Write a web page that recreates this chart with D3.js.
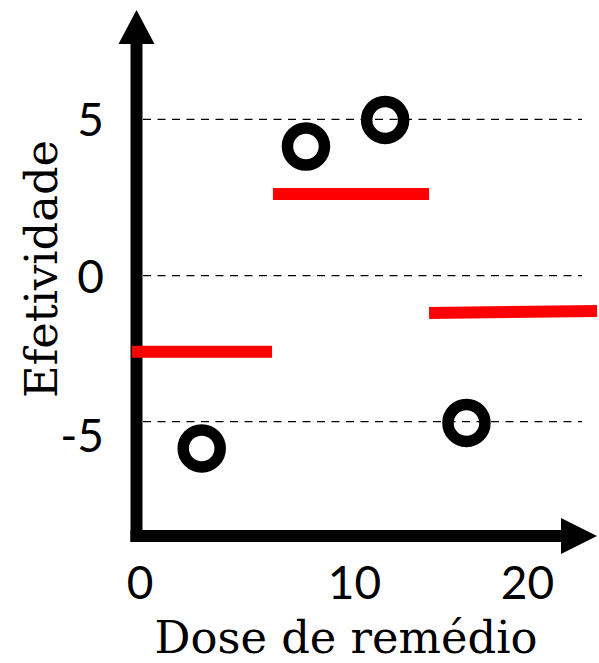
<!DOCTYPE html>
<html>
<head>
<meta charset="utf-8">
<script src="https://cdn.jsdelivr.net/npm/d3@7"></script>
<style>
  html, body { margin: 0; padding: 0; background: #fff; }
  svg { display: block; }
</style>
</head>
<body>
<svg id="chart" width="599" height="663"></svg>
<script>
// ---- data ----
const xTicks = [0, 10, 20];
const yTicks = [5, 0, -5];
const gridValues = [5, 0, -4.58];
const pointDose = [2.9, 7.76, 11.8, 16.5];
const pointEffect = [-5.42, 4.13, 4.98, -4.62];
const segX0 = [-0.36, 6.22, 14.34];
const segX1 = [6.18, 14.34, 24.05];
const segY0 = [-2.39, 2.61, -1.17];
const segY1 = [-2.39, 2.61, -1.11];
const xTitle = "Dose de remédio";
const yTitle = "Efetividade";

const svg = d3.select("#chart");

const x = d3.scaleLinear().domain([0, 10, 20]).range([139.5, 354, 527]);
const y = d3.scaleLinear().domain([-5, 0, 5]).range([435, 275.7, 119.3]);

const axisX = 136.5, axisY = 536;

// gridlines
svg.append("g").selectAll("line").data(gridValues).join("line")
  .attr("x1", 143).attr("x2", 582)
  .attr("y1", d => y(d)).attr("y2", d => y(d))
  .attr("stroke", "#000").attr("stroke-width", 1.3)
  .attr("stroke-dasharray", "8,6.5");

// axes lines
svg.append("line").attr("x1", axisX).attr("x2", axisX).attr("y1", 542).attr("y2", 40)
  .attr("stroke", "#000").attr("stroke-width", 12);
svg.append("line").attr("x1", 130.5).attr("x2", 565).attr("y1", axisY).attr("y2", axisY)
  .attr("stroke", "#000").attr("stroke-width", 12);
// arrowheads
svg.append("path").attr("d", `M${axisX},10 L${axisX - 18},44 L${axisX + 18},44 Z`).attr("fill", "#000");
svg.append("path").attr("d", `M597,${axisY} L561,${axisY - 18} L561,${axisY + 18} Z`).attr("fill", "#000");

// tick labels
const gx = svg.append("g").attr("transform", `translate(0,${axisY})`)
  .call(d3.axisBottom(x).tickValues(xTicks).tickSize(0).tickPadding(0).tickFormat(d => String(d)));
gx.select(".domain").remove();
gx.selectAll("text").attr("font-family", "Lato, 'Open Sans', sans-serif").attr("font-size", 46)
  .attr("fill", "#000").attr("y", 63).attr("dy", 0);

const gy = svg.append("g").attr("transform", `translate(104,0)`)
  .call(d3.axisLeft(y).tickValues(yTicks).tickSize(0).tickPadding(0).tickFormat(d => String(d)));
gy.select(".domain").remove();
gy.selectAll("text").attr("font-family", "Lato, 'Open Sans', sans-serif").attr("font-size", 46)
  .attr("fill", "#000").attr("x", 0).attr("dy", "0.36em");

// red segments
svg.append("g").selectAll("line").data(segX0).join("line")
  .attr("x1", (d, i) => x(segX0[i])).attr("x2", (d, i) => x(segX1[i]))
  .attr("y1", (d, i) => y(segY0[i])).attr("y2", (d, i) => y(segY1[i]))
  .attr("stroke", "#ff0000").attr("stroke-width", 12);

// points
svg.append("g").selectAll("circle").data(pointDose).join("circle")
  .attr("cx", (d, i) => x(pointDose[i])).attr("cy", (d, i) => y(pointEffect[i]))
  .attr("r", 18.5).attr("fill", "none").attr("stroke", "#000").attr("stroke-width", 11.5);

// axis titles
svg.append("text").attr("x", 346).attr("y", 653).attr("text-anchor", "middle")
  .attr("font-family", "'DejaVu Serif', serif").attr("font-size", 44)
  .attr("textLength", 383).attr("lengthAdjust", "spacingAndGlyphs")
  .attr("fill", "#000").text(xTitle);
svg.append("text").attr("transform", "translate(57,269) rotate(-90)").attr("text-anchor", "middle")
  .attr("font-family", "'DejaVu Serif', serif").attr("font-size", 44)
  .attr("textLength", 258).attr("lengthAdjust", "spacingAndGlyphs")
  .attr("fill", "#000").text(yTitle);
</script>
</body>
</html>
